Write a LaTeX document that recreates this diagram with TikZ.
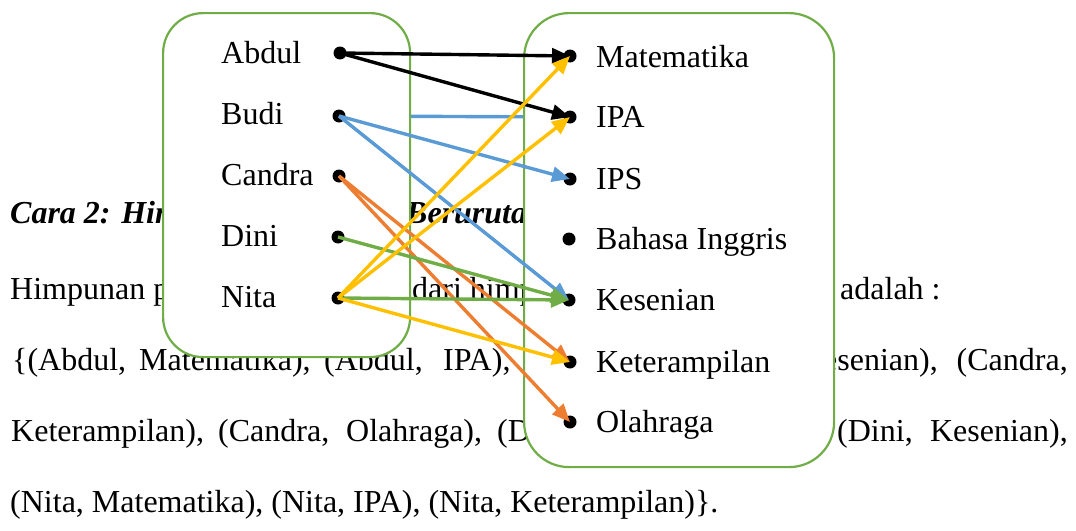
\documentclass[tikz,border=0pt]{standalone}
\usepackage{fontspec}
\setmainfont{Liberation Serif}
\usetikzlibrary{arrows.meta}
\definecolor{boxgreen}{RGB}{112,173,71}
\definecolor{lineblue}{RGB}{91,155,213}
\definecolor{lineorange}{RGB}{237,125,49}
\definecolor{lineyellow}{RGB}{255,192,0}
\begin{document}
\begin{tikzpicture}[x=1pt,y=-1pt,
  txt/.style={anchor=base west, inner sep=0pt, font=\fontsize{32}{32}\selectfont},
  txtr/.style={txt, anchor=base east},
  head/.style={txt, font=\fontsize{32}{32}\selectfont\bfseries\itshape},
  setbox/.style={draw=boxgreen, line width=2.2pt, fill=white, anchor=north west},
  pt/.style={circle, fill=black, inner sep=0pt, minimum size=13pt},
  link/.style={line width=3.4pt, -{Triangle[length=18pt,width=15pt]}},
]
\useasboundingbox (0,0) rectangle (1076,530);

% running text of the page
\node[head] (h1a) at (10,223) {Cara 2: Him};
\node[head] (h1b) at (406,223) {Berurutan};
\node[txt] (p2a) at (10,299) {Himpunan p};
\node[txt] (p2b) at (412,299) {dari himpunan};
\node[txt] (p2c) at (840,299) {adalah :};
\node[txt] (p3a) at (12,370) {\{(Abdul,};
\node[txt] (p3b) at (139,370) {Matematika),};
\node[txt] (p3c) at (324,370) {(Abdul,};
\node[txt] (p3d) at (443,370) {IPA),};
\node[txtr] (p3e) at (938,370) {Kesenian),};
\node[txtr] (p3f) at (1068,370) {(Candra,};
\node[txt] (p4a) at (11,441) {Keterampilan),};
\node[txt] (p4b) at (218,441) {(Candra,};
\node[txt] (p4c) at (346,441) {Olahraga),};
\node[txt] (p4d) at (497,441) {(Dini,};
\node[txt] (p4e) at (837,441) {(Dini,};
\node[txtr] (p4f) at (1068,441) {Kesenian),};
\node[txt] (p5) at (10,512) {(Nita, Matematika), (Nita, IPA), (Nita, Keterampilan)\}.};

% point coordinates
\coordinate (cabdul) at (340,53);
\coordinate (cbudi) at (339,116);
\coordinate (ccandra) at (339,176);
\coordinate (cdini) at (338,237);
\coordinate (cnita) at (338,298);
\coordinate (cmat) at (570,56);
\coordinate (cipa) at (570,117);
\coordinate (cips) at (570,179);
\coordinate (cbing) at (569,239);
\coordinate (ckes) at (569,300);
\coordinate (cket) at (570,362);
\coordinate (cola) at (570,422);

% link lying under the two sets
\draw[link, lineblue] (cbudi) -- (cipa);

% the two sets
\node[setbox, rounded corners=40pt, minimum width=247pt, minimum height=344pt] (dom) at (162,12) {};
\node[setbox, rounded corners=45pt, minimum width=310pt, minimum height=454pt] (cod) at (523,12) {};

% members
\node[txt] (labdul) at (221,63) {Abdul};
\node[txt] (lbudi) at (221,124) {Budi};
\node[txt] (lcandra) at (221,185) {Candra};
\node[txt] (ldini) at (221,246) {Dini};
\node[txt] (lnita) at (221,307) {Nita};
\node[txt] (lmat) at (596,67) {Matematika};
\node[txt] (lipa) at (596,127) {IPA};
\node[txt] (lips) at (596,189) {IPS};
\node[txt] (lbing) at (596,249) {Bahasa Inggris};
\node[txt] (lkes) at (596,310) {Kesenian};
\node[txt] (lket) at (596,372) {Keterampilan};
\node[txt] (lola) at (596,432) {Olahraga};

\foreach \p in {abdul,budi,candra,dini,nita,mat,ipa,ips,bing,kes,ket,ola}
  \node[pt] (\p) at (c\p) {};

% relation arrows
\draw[link, black] (abdul.center) -- (mat.center);
\draw[link, black] (abdul.center) -- (ipa.center);
\draw[link, lineblue] (budi.center) -- (ips.center);
\draw[link, lineblue] (budi.center) -- (kes.center);
\draw[link, lineorange] (candra.center) -- (ket.center);
\draw[link, lineorange] (candra.center) -- (ola.center);
\draw[link, boxgreen] (dini.center) -- (kes.center);
\draw[link, boxgreen] (nita.center) -- (kes.center);
\draw[link, lineyellow] (nita.center) -- (mat.center);
\draw[link, lineyellow] (nita.center) -- (ipa.center);
\draw[link, lineyellow] (nita.center) -- (ket.center);
\end{tikzpicture}
\end{document}
